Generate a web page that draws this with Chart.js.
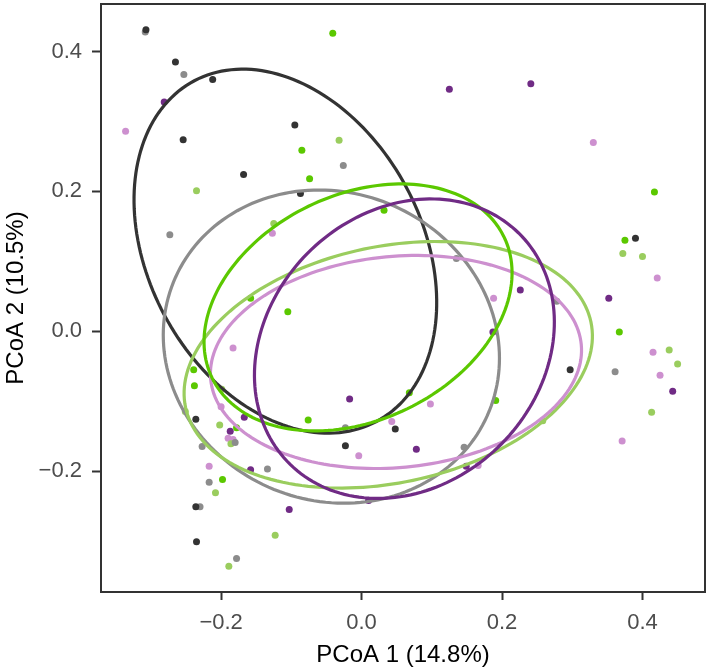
<!DOCTYPE html>
<html>
<head>
<meta charset="utf-8">
<script src="https://cdn.jsdelivr.net/npm/chart.js@4.4.0/dist/chart.umd.min.js"></script>
<style>
  html, body { margin: 0; padding: 0; background: #fff; }
  canvas { display: block; }
</style>
</head>
<body>
<canvas id="pcoa" width="709" height="670"></canvas>
<script>
// --- Data (PCoA 1 / PCoA 2 scores) ---
const groups = ['A', 'B', 'C', 'D', 'E', 'F'];
const colors = ['#333333', '#8c8c8c', '#5bc800', '#9acd5e', '#702b85', '#cd90cf'];

const darkX  = [-0.307, -0.265, -0.212, -0.095, -0.254, -0.168, -0.087, 0.390, 0.297, -0.236, 0.048, -0.023, -0.236, -0.235];
const darkY  = [0.431, 0.385, 0.360, 0.295, 0.274, 0.224, 0.197, 0.133, -0.055, -0.126, -0.140, -0.164, -0.251, -0.301];

const greyX  = [-0.308, -0.253, -0.026, -0.273, 0.135, 0.278, 0.361, -0.023, -0.180, -0.227, -0.134, 0.146, -0.217, -0.230, -0.178];
const greyY  = [0.428, 0.367, 0.237, 0.138, 0.104, 0.043, -0.058, -0.138, -0.159, -0.165, -0.197, -0.166, -0.216, -0.251, -0.325];

const greenX = [-0.041, -0.085, -0.074, 0.032, 0.417, 0.375, -0.158, -0.105, 0.367, 0.191, 0.068, -0.239, -0.238, -0.076, -0.178, -0.198];
const greenY = [0.426, 0.259, 0.218, 0.173, 0.199, 0.130, 0.047, 0.028, -0.001, -0.099, -0.088, -0.055, -0.078, -0.127, -0.138, -0.212];

const lgreenX = [-0.032, -0.235, -0.125, 0.372, 0.400, 0.438, 0.450, 0.413, 0.258, -0.199, -0.251, -0.202, -0.186, -0.208, -0.123, -0.189];
const lgreenY = [0.273, 0.201, 0.154, 0.111, 0.107, -0.027, -0.047, -0.116, -0.128, -0.083, -0.115, -0.134, -0.161, -0.231, -0.292, -0.336];

const purpleX = [-0.281, 0.125, 0.241, 0.226, 0.352, 0.187, 0.443, -0.017, -0.167, -0.187, 0.078, -0.158, 0.149, 0.010, -0.103];
const purpleY = [0.328, 0.346, 0.354, 0.059, 0.047, -0.001, -0.086, -0.097, -0.123, -0.143, -0.169, -0.198, -0.193, -0.242, -0.255];

const pinkX = [-0.336, -0.127, 0.330, 0.421, 0.188, 0.415, 0.425, 0.098, 0.371, 0.166, 0.043, -0.004, -0.183, -0.200, -0.190, -0.183, -0.217];
const pinkY = [0.286, 0.140, 0.270, 0.076, 0.047, -0.030, -0.063, -0.104, -0.157, -0.192, -0.129, -0.178, -0.024, -0.108, -0.153, -0.155, -0.193];

const seriesX = [darkX, greyX, greenX, lgreenX, purpleX, pinkX];
const seriesY = [darkY, greyY, greenY, lgreenY, purpleY, pinkY];

// confidence ellipses per group: centre, semi-axes, rotation (deg)
const ellCx    = [-0.1085, -0.043, -0.005, 0.038, 0.061, 0.049];
const ellCy    = [0.1145, -0.022, 0.034, -0.048, -0.025, -0.044];
const ellA     = [0.276, 0.243, 0.231, 0.295, 0.232, 0.265];
const ellB     = [0.195, 0.220, 0.161, 0.169, 0.194, 0.151];
const ellAngle = [-62, -24, 26, 12, 45.5, 5.4];
const ellOrder = [0, 1, 3, 5, 2, 4];

// axes
const xMin = -0.371, xMax = 0.489;
const yMin = -0.373, yMax = 0.468;
const xTicks = [-0.2, 0.0, 0.2, 0.4];
const yTicks = [-0.2, 0.0, 0.2, 0.4];

const FONT = "'Liberation Sans', Arial, Helvetica, sans-serif";
const fmt = v => v.toFixed(1).replace('-', '\u2212');

const datasets = groups.map((g, i) => ({
    label: g,
    data: seriesX[i].map((x, k) => ({ x: x, y: seriesY[i][k] })),
    backgroundColor: colors[i],
    borderWidth: 0,
    pointRadius: 3.5
}));

const ellipsePlugin = {
    id: 'ellipses',
    afterDatasetsDraw(chart) {
        const { ctx, chartArea, scales: { x, y } } = chart;
        ctx.save();
        ctx.beginPath();
        ctx.rect(chartArea.left, chartArea.top, chartArea.right - chartArea.left, chartArea.bottom - chartArea.top);
        ctx.clip();
        ellOrder.forEach(i => {
            const rad = ellAngle[i] * Math.PI / 180;
            ctx.beginPath();
            for (let k = 0; k <= 180; k++) {
                const t = k / 180 * 2 * Math.PI;
                const u = ellA[i] * Math.cos(t), w = ellB[i] * Math.sin(t);
                const px = x.getPixelForValue(ellCx[i] + u * Math.cos(rad) - w * Math.sin(rad));
                const py = y.getPixelForValue(ellCy[i] + u * Math.sin(rad) + w * Math.cos(rad));
                if (k === 0) ctx.moveTo(px, py); else ctx.lineTo(px, py);
            }
            ctx.closePath();
            ctx.strokeStyle = colors[i];
            ctx.lineWidth = 3.2;
            ctx.stroke();
        });
        ctx.restore();
    }
};

const boxPlugin = {
    id: 'box',
    afterDraw(chart) {
        const { ctx, chartArea: a } = chart;
        ctx.save();
        ctx.strokeStyle = '#333333';
        ctx.lineWidth = 2;
        ctx.strokeRect(a.left, a.top, a.right - a.left, a.bottom - a.top);
        ctx.restore();
    }
};

new Chart(document.getElementById('pcoa'), {
    type: 'scatter',
    data: { datasets },
    plugins: [ellipsePlugin, boxPlugin],
    options: {
        responsive: false,
        animation: false,
        layout: { padding: { top: 1, right: 3, left: 0, bottom: 0 } },
        plugins: { legend: { display: false }, tooltip: { enabled: false } },
        scales: {
            x: {
                type: 'linear', position: 'bottom', min: xMin, max: xMax,
                afterBuildTicks: ax => { ax.ticks = xTicks.map(v => ({ value: v })); },
                afterFit: ax => { ax.height = 78; ax.paddingLeft = 0; ax.paddingRight = 0; },
                grid: { drawOnChartArea: false, drawTicks: true, tickLength: 8, tickWidth: 2, tickColor: '#333333' },
                border: { display: false },
                ticks: { color: '#4d4d4d', font: { family: FONT, size: 22 }, padding: 10, maxRotation: 0, callback: fmt },
                title: { display: true, text: 'PCoA 1 (14.8%)', color: '#000', font: { family: FONT, size: 24 }, padding: { top: 0, bottom: 0 } }
            },
            y: {
                type: 'linear', position: 'left', min: yMin, max: yMax,
                afterBuildTicks: ax => { ax.ticks = yTicks.map(v => ({ value: v })); },
                afterFit: ax => { ax.width = 101; ax.paddingTop = 0; ax.paddingBottom = 0; },
                grid: { drawOnChartArea: false, drawTicks: true, tickLength: 9, tickWidth: 2, tickColor: '#333333' },
                border: { display: false },
                ticks: { color: '#4d4d4d', font: { family: FONT, size: 22 }, padding: 10, callback: fmt },
                title: { display: true, text: 'PCoA 2 (10.5%)', color: '#000', font: { family: FONT, size: 24 }, padding: { top: 2, bottom: 0 } }
            }
        }
    }
});
</script>
</body>
</html>
